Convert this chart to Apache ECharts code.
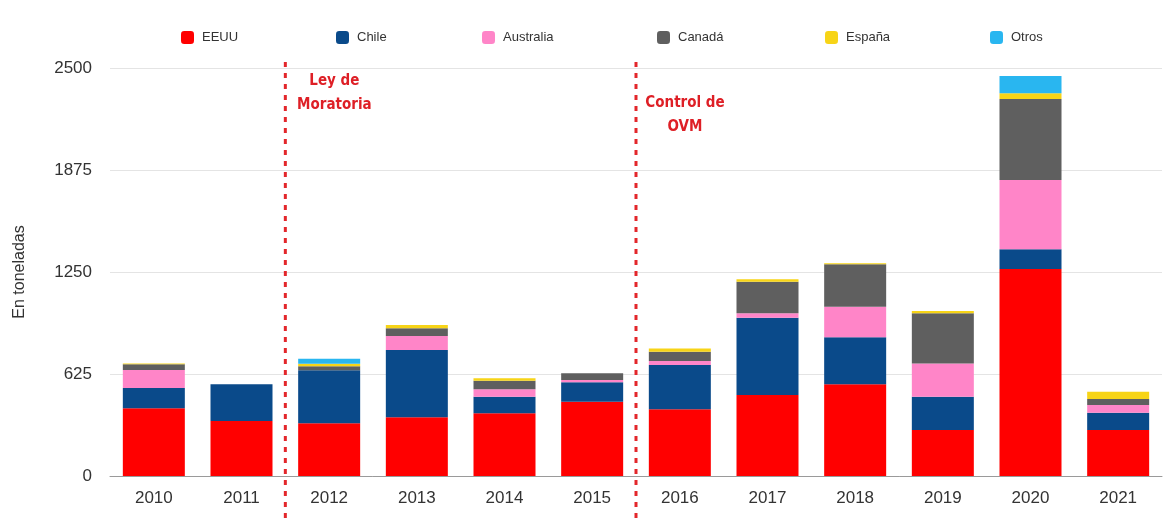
<!DOCTYPE html>
<html>
<head>
<meta charset="utf-8">
<script src="https://cdn.jsdelivr.net/npm/echarts@6/dist/echarts.min.js"></script>
<style>html,body{margin:0;padding:0;background:#fff}#c{width:1164px;height:521px}</style>
</head>
<body>
<div id="c"></div>
<script>
const years = ['2010','2011','2012','2013','2014','2015','2016','2017','2018','2019','2020','2021'];
const eeuu      = [415, 337, 323, 360, 384, 455, 409, 496, 562, 282, 1268, 282];
const chile     = [124, 225, 325, 412, 102, 119, 271, 474, 288, 204, 121, 106];
const australia = [111,   0,   0,  86,  45,  14,  25,  27, 187, 204, 425,  47];
const canada    = [ 34,   0,  25,  47,  53,  41,  57, 194, 260, 307, 496,  37];
const espana    = [  5,   0,  15,  20,  15,   0,  20,  14,   6,  14,  35,  45];
const otros     = [  0,   0,  30,   0,   0,   0,   0,   0,   0,   0, 106,   0];
const yTicks = [0, 625, 1250, 1875, 2500];
const seriesNames = ['EEUU','Chile','Australia','Canadá','España','Otros'];
const seriesColors = ['#ff0000','#0a4a8a','#ff85c8','#5f5f5f','#f7d417','#29b6f0'];
const seriesData = [eeuu, chile, australia, canada, espana, otros];
const annotations = [
  {after: '2011', lines: ['Ley de', 'Moratoria']},
  {after: '2015', lines: ['Control de', 'OVM']}
];

const chart = echarts.init(document.getElementById('c'));
const legendLefts = [176, 331, 477, 652, 820, 985];
const font = '"Liberation Sans", Arial, Helvetica, sans-serif';

const option = {
  animation: false,
  backgroundColor: '#fff',
  legend: seriesNames.map((n, i) => ({
    data: [n], left: legendLefts[i], top: 26, itemWidth: 13, itemHeight: 13,
    icon: 'roundRect', textStyle: {fontSize: 13, color: '#333', fontFamily: font, padding: [0,0,0,3]}
  })),
  grid: {left: 110, right: 2, top: 68, bottom: 45},
  xAxis: {
    type: 'category', data: years,
    axisTick: {show: false},
    axisLine: {lineStyle: {color: '#9a9a9a', width: 1}},
    axisLabel: {fontSize: 17, color: '#333', margin: 14, fontFamily: font}
  },
  yAxis: {
    type: 'value', min: 0, max: 2500, interval: 625,
    name: 'En toneladas', nameLocation: 'middle', nameGap: 82, nameRotate: 90,
    nameTextStyle: {fontSize: 16, color: '#333', fontFamily: font},
    axisLabel: {fontSize: 17, color: '#333', margin: 18, fontFamily: font,
      formatter: v => yTicks.includes(v) ? String(v) : ''},
    splitLine: {lineStyle: {color: '#e4e4e4'}}
  },
  series: seriesNames.map((n, i) => ({
    name: n, type: 'bar', stack: 'total', barWidth: 62,
    itemStyle: {color: seriesColors[i]},
    data: seriesData[i]
  }))
};
chart.setOption(option);

// annotation lines computed through the category axis
const graphics = [];
const yTop = chart.convertToPixel({yAxisIndex: 0}, 2500);
annotations.forEach(a => {
  const idx = years.indexOf(a.after);
  const x1 = chart.convertToPixel({xAxisIndex: 0}, years[idx]);
  const x2 = chart.convertToPixel({xAxisIndex: 0}, years[idx + 1]);
  const x = (x1 + x2) / 2;
  graphics.push({
    type: 'line', shape: {x1: x, y1: yTop - 6, x2: x, y2: 521},
    style: {stroke: '#e3262b', lineWidth: 3, lineDash: [5, 6]}, z: 10
  });
  a.lines.forEach((t, k) => {
    graphics.push({
      type: 'text', x: x + 49, y: yTop + 13 + k * 24 + (idx > 2 ? 22 : 0),
      style: {text: t, fill: '#de1f26', font: 'bold 15px "DejaVu Sans Condensed", "Liberation Sans Narrow", sans-serif',
        textAlign: 'center', textVerticalAlign: 'middle'}, z: 10
    });
  });
});
chart.setOption({graphic: graphics});
</script>
</body>
</html>
